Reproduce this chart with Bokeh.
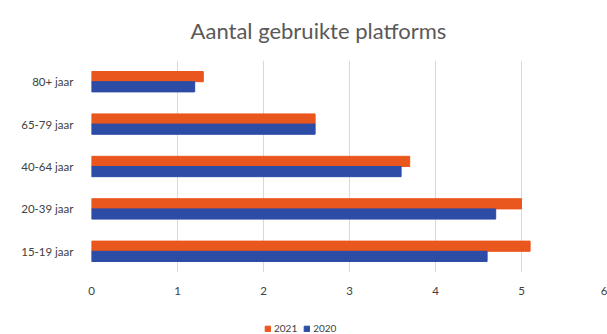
from bokeh.plotting import figure
from bokeh.layouts import column
from bokeh.models import ColumnDataSource, Legend, LegendItem, FactorRange, Label
from bokeh.transform import dodge
from bokeh.embed import file_html
from bokeh.resources import INLINE

title_text = "Aantal gebruikte platforms"
categories = ["15-19 jaar", "20-39 jaar", "40-64 jaar", "65-79 jaar", "80+ jaar"]
values_2021 = [5.1, 5.0, 3.7, 2.6, 1.3]
values_2020 = [4.6, 4.7, 3.6, 2.6, 1.2]
series_labels = ["2021", "2020"]
x_ticks = [0, 1, 2, 3, 4, 5, 6]

src = ColumnDataSource(dict(cat=categories, v21=values_2021, v20=values_2020))

FONT = "Lato"
ORANGE = "#E9561E"
BLUE = "#2C4CA6"


def strip(height):
    f = figure(width=607, height=height, x_range=(0, 1), y_range=(0, 1),
               output_backend="svg", toolbar_location=None,
               min_border=0, min_border_left=0, min_border_right=0,
               min_border_top=0, min_border_bottom=0)
    f.axis.visible = False
    f.grid.visible = False
    f.outline_line_color = None
    return f


# title strip
t = strip(60)
t.add_layout(Label(x=0.192, y=0.5, text=title_text, text_font=FONT, text_font_size="22px",
                   text_color="#595959", text_baseline="middle", text_align="left"))

# main chart
p = figure(width=607, height=250, y_range=FactorRange(*categories), x_range=(0, 6),
           output_backend="svg", toolbar_location=None,
           min_border_left=91, min_border_right=0, min_border_top=0, min_border_bottom=38)

p.hbar(y=dodge("cat", 0.12, range=p.y_range), right="v21", left=0, height=0.24,
       source=src, color=ORANGE)
p.hbar(y=dodge("cat", -0.12, range=p.y_range), right="v20", left=0, height=0.24,
       source=src, color=BLUE)

p.outline_line_color = None
p.ygrid.grid_line_color = None
p.xgrid.grid_line_color = "#D9D9D9"
p.xgrid.ticker = x_ticks
p.xaxis.ticker = x_ticks
for ax in (p.xaxis, p.yaxis):
    ax.axis_line_color = None
    ax.major_tick_line_color = None
    ax.minor_tick_line_color = None
    ax.major_label_text_font = FONT
    ax.major_label_text_font_size = "11.5px"
    ax.major_label_text_color = "#404040"
p.xaxis.major_label_standoff = 8
p.yaxis.major_label_standoff = 12

# legend strip below the chart (renderers hidden, only their legend swatches show)
q = strip(24)
g21 = q.quad(left=0, right="v21", bottom=0, top=0, source=src, color=ORANGE, visible=False)
g20 = q.quad(left=0, right="v20", bottom=0, top=0, source=src, color=BLUE, visible=False)

legend = Legend(items=[LegendItem(label=series_labels[0], renderers=[g21]),
                       LegendItem(label=series_labels[1], renderers=[g20])],
                orientation="horizontal", location=(173, 0),
                label_text_font=FONT, label_text_font_size="10px", label_text_color="#404040",
                glyph_width=7, glyph_height=7, spacing=6, label_standoff=3,
                padding=2, margin=0, border_line_color=None, background_fill_alpha=0,
                inactive_fill_alpha=0)
q.add_layout(legend, "center")

layout = column(t, p, q, spacing=0)
open("out.html", "w").write(file_html(layout, INLINE))
